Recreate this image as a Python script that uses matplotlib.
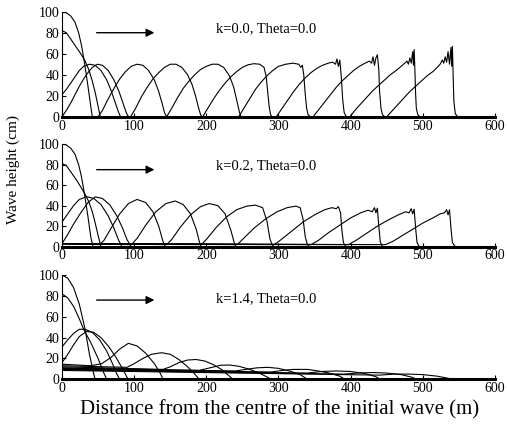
import matplotlib
matplotlib.use("Agg")
import matplotlib.pyplot as plt

plt.rcParams['font.family'] = ['Liberation Serif', 'DejaVu Serif']

# Wave-height profiles (distance m, height cm) at successive times, one list per time step.
k00_profiles = [
    [(0, 100), (6, 99), (12, 96), (18, 90), (23, 80), (27, 68), (30, 56), (33, 43), (36, 29), (38, 19), (40, 9), (42, 0), (560, 0)],
    [(0, 82), (6, 80), (12, 74), (20, 66), (27, 59), (32, 53), (37, 45), (42, 34), (46, 23), (50, 10), (53, 0), (560, 0)],
    [(0, 21), (6, 26), (12, 32), (18, 38), (24, 44), (30, 48), (38, 50), (46, 49), (54, 44), (62, 35), (68, 25), (74, 13), (78, 5), (81, 0), (560, 0)],
    [(0, 0), (6, 6), (12, 13), (18, 21), (24, 29), (30, 36), (36, 42), (42, 47), (49, 50), (56, 49), (64, 44), (72, 35), (79, 24), (85, 12), (89, 4), (92, 0), (560, 0)],
    [(0, 0), (50, 0), (56, 6), (64, 17), (72, 27), (80, 36), (88, 43), (96, 48), (104, 50), (112, 49), (120, 44), (128, 35), (134, 24), (139, 12), (142, 4), (145, 0), (560, 0)],
    [(0, 0), (95, 0), (102, 8), (110, 19), (118, 28), (126, 36), (134, 42), (142, 47), (150, 50), (158, 50), (166, 47), (174, 40), (180, 31), (185, 20), (189, 9), (192, 2), (194, 0), (560, 0)],
    [(0, 0), (145, 0), (152, 8), (160, 18), (168, 27), (176, 34), (184, 40), (192, 45), (200, 48), (208, 50), (216, 50), (224, 47), (232, 39), (238, 28), (242, 16), (246, 4), (248, 0), (560, 0)],
    [(0, 0), (195, 0), (202, 8), (210, 17), (218, 25), (226, 32), (234, 38), (242, 43), (250, 47), (258, 49.5), (266, 50.5), (274, 50), (280, 47), (283, 38), (285, 24), (287, 10), (289, 2), (291, 0), (560, 0)],
    [(0, 0), (245, 0), (252, 8), (260, 17), (268, 26), (276, 33), (284, 39), (292, 44), (300, 48), (310, 50), (320, 51), (328, 50), (331, 47), (333, 49), (335, 40), (337, 22), (339, 8), (341, 2), (344, 0), (560, 0)],
    [(0, 0), (297, 0), (305, 8), (313, 16), (321, 24), (329, 31), (337, 37), (345, 42), (353, 46), (361, 49), (369, 51), (375, 52), (379, 50), (381, 55), (383, 48), (385, 54), (387, 38), (389, 16), (391, 4), (394, 0), (560, 0)],
    [(0, 0), (348, 0), (356, 7), (364, 14), (372, 21), (380, 28), (388, 34), (396, 39), (404, 44), (412, 48), (420, 51), (426, 53), (429, 51), (431, 57), (433, 49), (435, 56), (437, 59), (439, 45), (440, 25), (442, 8), (444, 2), (447, 0), (560, 0)],
    [(0, 0), (399, 0), (407, 7), (415, 13), (423, 19), (431, 25), (439, 30), (447, 35), (455, 40), (463, 44), (470, 48), (475, 51), (478, 53), (480, 50), (482, 56), (484, 51), (486, 62), (487, 49), (488, 64), (489, 45), (490, 22), (491, 8), (493, 2), (496, 0), (560, 0)],
    [(0, 0), (450, 0), (458, 6), (466, 12), (474, 18), (482, 24), (490, 29), (498, 34), (506, 39), (514, 43), (520, 47), (524, 50), (527, 54), (529, 51), (531, 57), (533, 52), (535, 62), (537, 50), (539, 66), (540, 48), (541, 67), (542, 40), (543, 15), (545, 3), (548, 0), (560, 0)],
]

k02_profiles = [
    [(0, 100), (6, 99), (12, 96), (18, 90), (23, 80), (27, 68), (30, 56), (33, 43), (36, 29), (38, 19), (40, 9), (43, 0), (560, 0)],
    [(0, 81), (6, 79), (12, 73), (20, 65), (27, 57), (32, 51), (37, 44), (42, 34), (46, 23), (50, 11), (54, 0), (560, 0)],
    [(0, 24), (8, 32), (16, 40), (24, 46), (34, 48.7), (44, 47), (54, 41), (64, 30), (72, 18), (78, 7), (83, 0), (560, 0)],
    [(0, 3), (8, 12), (16, 22), (26, 33), (36, 43), (46, 48.5), (56, 47), (66, 41), (76, 30), (84, 18), (90, 7), (96, 0), (560, 0)],
    [(0, 3), (52, 2), (58, 6), (68, 18), (80, 32), (92, 42), (104, 46), (116, 43), (126, 34), (134, 20), (140, 5), (143, 0), (560, 0)],
    [(0, 3), (96, 2), (104, 8), (116, 21), (130, 34), (144, 42), (157, 44.5), (168, 41), (178, 32), (186, 17), (191, 3), (193, 0), (560, 0)],
    [(0, 3), (145, 2), (152, 7), (164, 19), (178, 31), (192, 39), (204, 42), (216, 40), (226, 32), (234, 16), (239, 3), (241, 0), (560, 0)],
    [(0, 3), (193, 2), (200, 7), (214, 19), (228, 29), (242, 36), (256, 39.5), (268, 40.5), (278, 38), (284, 25), (288, 8), (291, 2), (294, 0), (560, 0)],
    [(0, 3), (243, 2), (250, 7), (266, 18), (282, 27), (298, 34), (312, 38), (324, 39.5), (330, 38), (334, 27), (337, 10), (340, 2), (343, 0), (560, 0)],
    [(0, 3), (294, 2), (302, 6), (318, 15), (334, 24), (350, 31), (364, 36), (374, 38), (380, 37), (383, 39), (386, 33), (388, 15), (390, 4), (393, 0), (560, 0)],
    [(0, 3), (345, 2), (355, 6), (370, 14), (385, 21), (400, 28), (414, 33), (424, 35.5), (430, 34), (433, 38), (435, 33), (437, 37.5), (439, 20), (441, 5), (444, 0), (560, 0)],
    [(0, 3), (397, 2), (407, 6), (422, 13), (437, 20), (452, 26), (466, 31), (476, 34), (481, 33), (484, 37), (486, 32), (488, 36.5), (490, 18), (492, 4), (495, 0), (560, 0)],
    [(0, 3), (448, 2), (458, 5), (472, 11), (486, 17), (500, 23), (514, 28), (524, 32), (530, 33), (533, 36), (535, 31), (537, 36), (539, 18), (541, 4), (545, 0), (560, 0)],
]

k14_profiles = [
    [(0, 100), (8, 97), (16, 88), (24, 72), (32, 48), (38, 24), (44, 5), (46, 0), (560, 0)],
    [(0, 82), (8, 78), (16, 70), (24, 58), (30, 48), (40, 35), (50, 20), (58, 6), (62, 0), (560, 0)],
    [(0, 31), (8, 38), (16, 44), (24, 48), (32, 48), (42, 45), (52, 38), (62, 27), (70, 15), (76, 5), (80, 0), (560, 0)],
    [(0, 16), (8, 24), (16, 33), (24, 41), (34, 46), (44, 45), (54, 40), (64, 32), (74, 22), (84, 10), (90, 2), (92, 0), (560, 0)],
    [(0, 14.5), (40, 13), (55, 15), (68, 21), (80, 29), (92, 34.5), (104, 32), (116, 25), (128, 15), (136, 6), (140, 0), (560, 0)],
    [(0, 13), (90, 11.5), (100, 15), (112, 20), (124, 24), (138, 25.5), (150, 24), (162, 19), (174, 12), (184, 5), (190, 0), (560, 0)],
    [(0, 12), (140, 9.5), (150, 12), (162, 16), (174, 18.5), (186, 19), (198, 17.5), (210, 14), (222, 9), (232, 3), (237, 0), (560, 0)],
    [(0, 11), (190, 8.5), (205, 11), (220, 13.5), (232, 13.7), (245, 12.5), (258, 10), (270, 7), (282, 3), (290, 0), (560, 0)],
    [(0, 10.5), (240, 8), (255, 9.5), (270, 11), (285, 11.5), (300, 10.5), (315, 8), (330, 4.5), (340, 0), (560, 0)],
    [(0, 10), (290, 7), (305, 8.5), (320, 9.5), (340, 9.5), (355, 8), (370, 6), (385, 3), (392, 0), (560, 0)],
    [(0, 9.5), (340, 6), (360, 7.5), (380, 8), (400, 7.5), (420, 5.5), (435, 2.5), (441, 0), (560, 0)],
    [(0, 9), (390, 5), (410, 6), (430, 6.5), (450, 6), (470, 4.5), (485, 2), (491, 0), (560, 0)],
    [(0, 8.5), (440, 4), (460, 5), (480, 5), (500, 4.5), (520, 3), (535, 1), (542, 0), (560, 0)],
]

panel_titles = ["k=0.0, Theta=0.0", "k=0.2, Theta=0.0", "k=1.4, Theta=0.0"]
x_ticks = [0, 100, 200, 300, 400, 500, 600]
y_ticks = [0, 20, 40, 60, 80, 100]

fig = plt.figure(figsize=(5.07, 4.26), dpi=100)
boxes = [
    [0.1223, 0.726, 0.854, 0.2465],
    [0.1223, 0.4209, 0.854, 0.2411],
    [0.1223, 0.1096, 0.854, 0.2448],
]
arrow_y = [80, 75, 76]
title_y = [84, 79, 77]

for box, profiles, title, ay, ty in zip(boxes, [k00_profiles, k02_profiles, k14_profiles],
                                      panel_titles, arrow_y, title_y):
    ax = fig.add_axes(box)
    for prof in profiles:
        xs, ys = zip(*prof)
        ax.plot(xs, ys, color='black', lw=0.8, solid_joinstyle='round')
    ax.set_xlim(0, 600)
    ax.set_ylim(0, 100)
    ax.set_xticks(x_ticks)
    ax.set_yticks(y_ticks)
    ax.tick_params(direction='in', length=3, width=0.8, labelsize=10, pad=2)
    ax.spines['top'].set_visible(False)
    ax.spines['right'].set_visible(False)
    ax.spines['left'].set_linewidth(0.8)
    ax.spines['bottom'].set_linewidth(2.2)
    ax.annotate('', xy=(128, ay), xytext=(48, ay),
                arrowprops=dict(arrowstyle='-|>', color='black', lw=1.0,
                                mutation_scale=12, shrinkA=0, shrinkB=0))
    ax.text(214, ty, title, fontsize=10.5, va='center', ha='left')

fig.text(0.026, 0.601, 'Wave height (cm)', rotation=90, va='center', ha='center', fontsize=11)
fig.text(0.551, 0.038, 'Distance from the centre of the initial wave (m)', va='center',
         ha='center', fontsize=15)

fig.savefig('out.png', dpi=100)
